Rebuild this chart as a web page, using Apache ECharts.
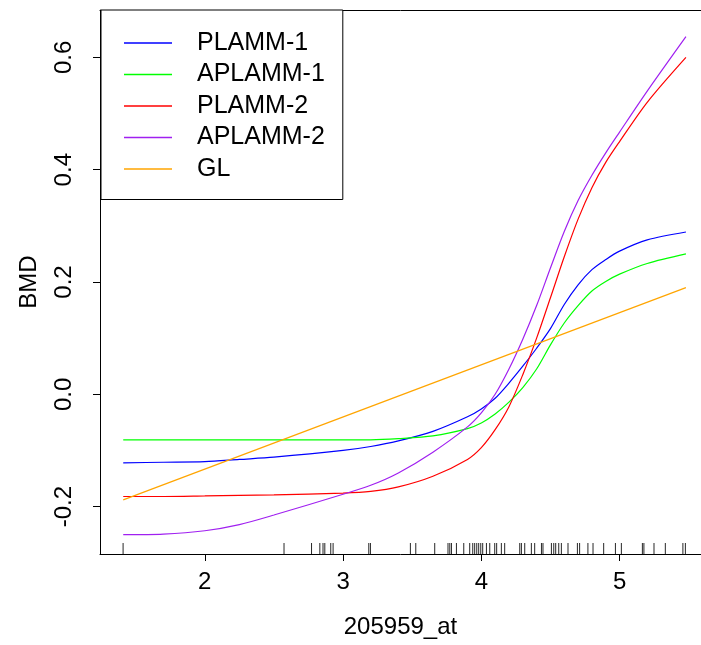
<!DOCTYPE html>
<html>
<head>
<meta charset="utf-8">
<script src="https://cdn.jsdelivr.net/npm/echarts@6/dist/echarts.min.js"></script>
<style>html,body{margin:0;padding:0;background:#fff}#c{width:701px;height:645px}</style>
</head>
<body>
<div id="c"></div>
<script>
var seriesNames = ['PLAMM-1', 'APLAMM-1', 'PLAMM-2', 'APLAMM-2', 'GL'];
var curveX  = [1.41, 1.7, 2.0, 2.25, 2.5, 3.0, 3.2, 3.4, 3.65, 3.9, 4.0, 4.1, 4.2, 4.3, 4.4, 4.5, 4.6, 4.7, 4.8, 4.9, 5.0, 5.2, 5.48];
var plamm1  = [-0.122, -0.121, -0.120, -0.116, -0.112, -0.100, -0.093, -0.083, -0.066, -0.040, -0.026, -0.007, 0.020, 0.050, 0.082, 0.117, 0.160, 0.195, 0.222, 0.240, 0.255, 0.275, 0.289];
var aplamm1 = [-0.081, -0.081, -0.081, -0.081, -0.081, -0.081, -0.081, -0.079, -0.074, -0.061, -0.051, -0.035, -0.014, 0.012, 0.045, 0.088, 0.127, 0.158, 0.184, 0.201, 0.214, 0.233, 0.250];
var plamm2  = [-0.182, -0.182, -0.181, -0.180, -0.179, -0.176, -0.173, -0.165, -0.146, -0.116, -0.095, -0.063, -0.022, 0.035, 0.100, 0.172, 0.245, 0.312, 0.368, 0.413, 0.450, 0.520, 0.600];
var aplamm2 = [-0.250, -0.249, -0.243, -0.232, -0.215, -0.178, -0.162, -0.140, -0.103, -0.058, -0.033, 0.000, 0.045, 0.098, 0.158, 0.225, 0.290, 0.345, 0.390, 0.430, 0.467, 0.540, 0.637];
var glX = [1.41, 5.48];
var glY = [-0.188, 0.190];
var rugX = [1.409, 2.573, 2.772, 2.832, 2.855, 2.868, 2.911, 2.928, 3.186, 3.198, 3.487, 3.526, 3.663,
  3.759, 3.772, 3.784, 3.820, 3.873, 3.916, 3.938, 3.952, 3.967, 3.981, 3.996, 4.010, 4.037, 4.061,
  4.097, 4.111, 4.145, 4.169, 4.278, 4.290, 4.314, 4.362, 4.386, 4.435, 4.446, 4.507, 4.524, 4.538,
  4.560, 4.579, 4.627, 4.695, 4.711, 4.771, 4.808, 4.885, 4.970, 5.013, 5.165, 5.176, 5.249, 5.331,
  5.458, 5.476];
var xTicks = [2, 3, 4, 5];
var yTicks = [-0.2, 0.0, 0.2, 0.4, 0.6];
var xAxisTitle = '205959_at';
var yAxisTitle = 'BMD';

var colors = ['#0000FF', '#00FF00', '#FF0000', '#A020F0', '#FFA500'];
var XMIN = 1.242, XMAX = 5.589, YMIN = -0.2844, YMAX = 0.6844;
var FONT = 'Liberation Sans, Arial, sans-serif';

function pairs(xs, ys) { return xs.map(function (x, i) { return [x, ys[i]]; }); }
var curveVals = [plamm1, aplamm1, plamm2, aplamm2];

var series = [];
for (var i = 0; i < 4; i++) {
  series.push({
    name: seriesNames[i], type: 'line', xAxisIndex: 0, yAxisIndex: 0,
    data: pairs(curveX, curveVals[i]), smooth: 0.3, showSymbol: false,
    lineStyle: { color: colors[i], width: 1.2 }, itemStyle: { color: colors[i] },
    silent: true, animation: false
  });
}
series.push({
  name: seriesNames[4], type: 'line', data: pairs(glX, glY), showSymbol: false,
  lineStyle: { color: colors[4], width: 1.2 }, itemStyle: { color: colors[4] },
  silent: true, animation: false
});
series.push({
  name: 'rug', type: 'scatter', data: rugX.map(function (x) { return [x, YMIN]; }),
  symbol: 'rect', symbolSize: [1, 11], symbolOffset: [0, -5.5],
  itemStyle: { color: '#000', opacity: 0.85 }, silent: true, animation: false, z: 1
});

var chart = echarts.init(document.getElementById('c'), null, { renderer: 'canvas' });
chart.setOption({
  backgroundColor: '#fff',
  animation: false,
  textStyle: { fontFamily: FONT },
  grid: { left: 100, right: 0, top: 10, bottom: 91, containLabel: false },
  legend: {
    data: seriesNames, orient: 'vertical', left: 101, top: 10,
    padding: [20.5, 18, 18, 23], itemGap: 6.5, itemWidth: 48, itemHeight: 1.5, icon: 'rect',
    borderColor: '#000', borderWidth: 1, backgroundColor: '#fff',
    textStyle: { fontSize: 25, color: '#000', fontFamily: FONT, lineHeight: 25, padding: [0, 0, 0, 20] },
    selectedMode: false
  },
  xAxis: [{
    type: 'value', min: XMIN, max: XMAX, position: 'bottom',
    name: xAxisTitle, nameLocation: 'middle', nameGap: 61,
    nameTextStyle: { fontSize: 24, color: '#000', fontFamily: FONT },
    axisLine: { show: true, onZero: false, lineStyle: { color: '#000', width: 1 } },
    axisTick: { show: true, length: 7, lineStyle: { color: '#000' }, customValues: xTicks },
    axisLabel: { show: true, fontSize: 24, color: '#000', margin: 16, customValues: xTicks, fontFamily: FONT },
    splitLine: { show: false }
  }, {
    type: 'value', min: XMIN, max: XMAX, position: 'top',
    axisLine: { show: true, onZero: false, lineStyle: { color: '#000', width: 1 } },
    axisTick: { show: false }, axisLabel: { show: false }, splitLine: { show: false }
  }],
  yAxis: [{
    type: 'value', min: YMIN, max: YMAX, position: 'left',
    name: yAxisTitle, nameLocation: 'middle', nameGap: 59, nameRotate: 90,
    nameTextStyle: { fontSize: 24, color: '#000', fontFamily: FONT },
    axisLine: { show: true, onZero: false, lineStyle: { color: '#000', width: 1 } },
    axisTick: { show: true, length: 7, lineStyle: { color: '#000' }, customValues: yTicks },
    axisLabel: {
      show: true, fontSize: 24, color: '#000', margin: 24, rotate: 90, customValues: yTicks, fontFamily: FONT,
      formatter: function (v) { return (Math.abs(v) < 1e-9 ? 0 : v).toFixed(1); }
    },
    splitLine: { show: false }
  }],
  series: series
});
</script>
</body>
</html>
